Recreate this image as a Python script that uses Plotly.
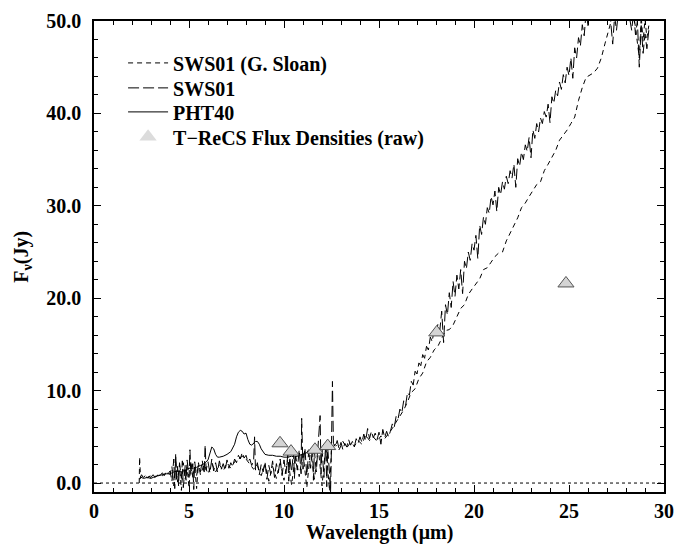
import plotly.graph_objects as go

# ---------------- data ----------------
# SWS01 (long dashes)
sws_wl = [2.4, 2.5, 2.6, 2.7, 2.8, 2.9, 3.0, 3.1, 3.2, 3.3, 3.4, 3.5, 3.6, 3.7, 3.8, 3.9, 4.0,
          4.1, 4.2, 4.25, 4.3, 4.35, 4.4, 4.45, 4.5, 4.6, 4.65, 4.7, 4.8, 4.85, 4.9, 5.0, 5.05, 5.1, 5.2, 5.25, 5.3, 5.4, 5.5,
          5.6, 5.7, 5.8, 5.85, 5.9, 6.0, 6.1, 6.2, 6.3, 6.4, 6.5, 6.6, 6.7, 6.8, 6.9, 7.0, 7.1, 7.2, 7.3, 7.4,
          7.5, 7.6, 7.7, 7.8, 7.9, 8.0, 8.1, 8.2, 8.3,
          8.4, 8.45, 8.5, 8.6, 8.7, 8.8, 8.9, 9.0, 9.1, 9.2, 9.3, 9.4, 9.5, 9.6, 9.7, 9.8, 9.9, 10.0,
          10.1, 10.2, 10.25, 10.3, 10.4, 10.5, 10.55, 10.6, 10.7, 10.8, 10.9, 10.93, 11.0, 11.1, 11.2, 11.3, 11.4, 11.5,
          11.55, 11.6, 11.7, 11.8, 11.9, 11.95, 12.0, 12.1, 12.2, 12.25, 12.3, 12.4, 12.45, 12.5, 12.55, 12.6,
          12.7, 12.8, 12.9, 13.0, 13.1, 13.2, 13.3, 13.4, 13.5, 13.6, 13.7, 13.8, 13.9, 14.0, 14.1, 14.2, 14.3, 14.4,
          14.5, 14.6, 14.7, 14.8, 14.9, 15.0, 15.1, 15.2, 15.3, 15.4, 15.5,
          15.6, 15.7, 15.8, 15.9, 16.0, 16.1, 16.2, 16.3, 16.4, 16.5,
          16.6, 16.7, 16.8, 16.9, 17.0, 17.1, 17.2, 17.3, 17.4, 17.5,
          17.6, 17.7, 17.8, 17.9, 18.0, 18.1, 18.2, 18.3, 18.4, 18.5,
          18.6, 18.7, 18.8, 18.9, 19.0, 19.1, 19.2, 19.3, 19.4, 19.5,
          19.6, 19.7, 19.8, 19.9, 20.0, 20.1, 20.2, 20.3, 20.4, 20.5,
          20.6, 20.7, 20.8, 20.9, 21.0, 21.1, 21.2, 21.3, 21.4, 21.5,
          21.6, 21.7, 21.8, 21.9, 22.0, 22.1, 22.2, 22.3, 22.4, 22.5,
          22.6, 22.7, 22.8, 22.9, 23.0, 23.1, 23.2, 23.3, 23.4, 23.5,
          23.6, 23.7, 23.8, 23.9, 24.0, 24.1, 24.2, 24.3, 24.4, 24.5,
          24.6, 24.7, 24.8, 24.9, 25.0, 25.1, 25.2, 25.3, 25.4, 25.5,
          25.6, 25.7, 25.8, 25.9, 26.0,
          26.1, 26.2, 26.3, 26.4, 26.5, 26.6, 26.7, 26.8, 26.9, 27.0,
          27.1, 27.2, 27.3, 27.4, 27.5, 27.6, 27.7, 27.8, 27.9, 28.0,
          28.1, 28.2, 28.3, 28.4, 28.5, 28.6, 28.7, 28.8, 28.9, 29.0, 29.1, 29.2]
sws_fx = [0.4, 0.9, 0.6, 0.8, 0.5, 0.7, 0.6, 0.9, 0.7, 1.0, 0.8, 0.9, 1.1, 0.8, 1.2, 1.0, 1.3,
          0.2, 2.6, -0.6, 3.2, 0.4, 1.8, -0.3, 2.2, 0.5, 2.4, -0.5, 1.9, 0.3, 2.5, 0.6, 3.6, 0.9, 2.1, -0.7, 2.3, 0.8, 2.0,
          1.2, 2.4, 1.0, 4.1, 1.4, 2.3, 1.1, 2.6, 1.3, 2.2, 1.2, 2.4, 1.5, 2.1, 1.4, 2.5, 1.6, 2.2, 1.8, 2.6,
          2.2, 3.0, 2.6, 3.3, 2.7, 3.0, 2.3, 2.6, 1.9,
          2.4, 5.0, 1.4, 2.2, 0.9, 2.0, 1.2, 2.3, 0.4, 1.9, 1.0, 2.4, 0.6, 2.1, 1.1, 2.6, 0.8, 2.5,
          1.0, 3.1, 0.2, 2.8, 1.2, 3.4, 0.5, 2.9, 1.4, 3.6, 1.0, 7.0, 1.5, 3.8, 0.8, 3.4, 1.6, 4.0,
          0.3, 3.5, 1.2, 4.2, 7.3, 1.0, 3.9, 0.6, 4.4, -0.4, 3.8, 0.9, -1.0, 4.1, 11.0, 4.3,
          3.9, 4.6, 3.7, 4.4, 3.6, 4.3, 3.9, 4.7, 4.1, 4.5, 3.9, 4.8, 4.3, 5.0, 4.4, 5.3, 4.6, 5.9,
          4.8, 5.6, 4.9, 5.4, 4.7, 5.5, 4.2, 5.8, 4.9, 5.6, 5.0,
          5.6, 6.4, 6.0, 7.2, 6.9, 8.0, 7.6, 8.9, 8.4, 9.8,
          9.5, 11.0, 10.6, 12.1, 11.8, 13.0, 12.7, 13.9, 13.5, 14.8,
          14.4, 15.8, 15.3, 16.6, 16.0, 17.2, 16.5, 18.6, 15.2, 19.3,
          18.2, 20.6, 19.0, 21.8, 20.2, 22.5, 21.0, 23.1, 20.5, 24.0,
          23.2, 25.0, 24.1, 25.9, 25.2, 26.8, 24.3, 27.9, 26.9, 28.8,
          28.0, 29.8, 29.2, 31.0, 30.1, 31.6, 29.4, 32.0, 31.2, 32.6,
          31.8, 33.2, 32.4, 33.8, 33.0, 34.5, 32.0, 35.1, 34.3, 35.8,
          35.0, 36.6, 35.9, 37.4, 35.2, 38.2, 37.3, 38.9, 38.0, 39.5,
          38.9, 40.2, 39.6, 41.0, 39.0, 41.8, 41.1, 42.5, 41.9, 43.4,
          42.6, 44.2, 43.3, 45.0, 44.1, 46.0, 43.8, 47.1, 46.0, 48.2,
          47.3, 49.6, 48.4, 51.0, 49.5,
          52.0, 50.5, 53.0, 51.0, 54.0, 52.0, 55.0, 52.5, 54.0, 51.5,
          53.0, 49.8, 47.5, 50.5, 49.0, 51.0, 53.0, 52.0, 54.0, 51.0,
          52.0, 50.2, 49.0, 51.0, 48.5, 50.0, 45.0, 49.5, 46.5, 48.6, 47.0, 49.0]

# SWS01 (G. Sloan) (short dashes)
gs_wl = [2.38, 2.4, 2.45, 2.6, 2.8, 3.0, 3.2, 3.4, 3.6, 3.8, 4.0,
         4.1, 4.2, 4.3, 4.4, 4.5, 4.6, 4.7, 4.8, 4.9, 5.0, 5.1, 5.2, 5.3, 5.4, 5.5,
         5.6, 5.8, 6.0, 6.2, 6.4, 6.6, 6.8, 7.0, 7.2, 7.4, 7.6, 7.8, 8.0, 8.2, 8.4, 8.6, 8.8, 9.0, 9.2, 9.4, 9.6, 9.8, 10.0,
         10.2, 10.4, 10.6, 10.8, 11.0, 11.2, 11.4, 11.6, 11.8, 12.0, 12.2, 12.4, 12.5,
         12.7, 12.9, 13.1, 13.3, 13.5, 13.7, 13.9, 14.1, 14.3, 14.5, 14.7, 14.9, 15.1, 15.3, 15.5,
         15.7, 15.9, 16.1, 16.3, 16.5, 16.7, 16.9, 17.1, 17.3, 17.5, 17.7, 17.9, 18.1, 18.3, 18.5, 18.7, 18.9,
         19.1, 19.3, 19.5, 19.7, 19.9, 20.1, 20.3, 20.5, 20.7, 20.9, 21.1, 21.3, 21.5, 21.7, 21.9,
         22.1, 22.3, 22.5, 22.7, 22.9, 23.1, 23.3, 23.5, 23.7, 23.9, 24.1, 24.3, 24.5, 24.7, 24.9,
         25.1, 25.3, 25.5, 25.7, 25.9, 26.1, 26.3, 26.5, 26.7, 26.9, 27.1, 27.3, 27.5, 27.7, 27.9,
         28.1, 28.3, 28.5, 28.7, 28.8, 28.9, 29.0, 29.1, 29.2]
gs_fx = [0.0, 2.8, 0.5, 0.8, 0.6, 0.8, 0.6, 0.9, 0.8, 1.1, 0.9,
         1.8, -0.3, 2.4, 0.1, 2.0, -0.8, 2.2, 0.4, 1.7, -0.5, 2.4, 0.6, 1.8, -0.6, 2.2,
         0.9, 2.0, 1.0, 2.1, 1.2, 2.0, 1.3, 2.2, 1.6, 2.3, 2.6, 2.9, 2.6, 2.1, 1.5, 1.9, 0.8, 2.0, 0.2, 1.8, 0.5, 2.2, 0.3,
         2.6, -0.2, 3.0, 0.7, 3.3, -0.5, 3.6, 0.4, 3.9, -0.3, 4.0, -0.9, 3.8,
         4.2, 3.6, 4.5, 3.8, 4.4, 4.0, 4.6, 4.2, 5.2, 4.6, 5.0, 4.5, 5.1, 4.8, 5.3,
         5.9, 6.6, 7.2, 7.9, 8.8, 9.8, 10.2, 11.3, 11.9, 13.1, 13.6, 14.4, 14.8, 15.6, 16.5, 16.6, 17.1,
         18.0, 18.9, 19.3, 20.4, 21.0, 21.6, 22.1, 23.1, 23.3, 23.9, 24.5, 24.9, 25.0, 26.2, 27.0,
         27.9, 28.7, 29.8, 30.3, 31.0, 31.6, 32.3, 32.6, 33.8, 34.5, 35.3, 36.0, 37.1, 37.6, 38.2,
         38.9, 39.6, 41.4, 42.8, 43.9, 44.2, 44.4, 44.9, 46.0, 47.6, 49.2, 50.6, 51.5, 52.3, 51.2,
         50.6, 52.0, 49.3, 46.0, 50.5, 47.8, 50.2, 48.2, 49.5]

# PHT40 (solid)
pht_wl = [2.45, 2.5, 2.6, 2.8, 3.0, 3.2, 3.4, 3.6, 3.8, 4.0, 4.2, 4.4, 4.6, 4.8, 5.0, 5.2, 5.4, 5.6, 5.8, 6.0,
          6.1, 6.2, 6.3, 6.4, 6.5, 6.6, 6.8, 7.0, 7.2, 7.4,
          7.5, 7.6, 7.7, 7.8, 7.9, 8.0, 8.1, 8.2, 8.3, 8.4, 8.5, 8.6, 8.7, 8.8, 8.9, 9.0,
          9.2, 9.4, 9.6, 9.8, 10.0, 10.2, 10.4, 10.6, 10.8, 11.0, 11.2, 11.3, 11.4, 11.6]
pht_fx = [0.6, 0.6, 0.5, 0.6, 0.5, 0.7, 0.8, 0.9, 1.0, 1.0, 1.2, 1.3, 1.2, 1.4, 1.6, 1.6, 1.7, 1.9, 2.1, 2.5,
          3.2, 3.9, 3.7, 3.1, 2.8, 2.8, 2.9, 3.1, 3.4, 4.2,
          5.0, 5.5, 5.7, 5.6, 5.3, 5.4, 4.7, 4.2, 4.1, 4.3, 4.5, 4.5, 4.2, 3.7, 3.4, 3.1,
          3.0, 3.0, 2.9, 2.9, 2.8, 2.8, 2.9, 2.8, 3.0, 3.1, 3.3, 3.6, 3.4, 3.2]

# T-ReCS flux densities (raw)
trecs_wl = [9.79, 10.37, 11.63, 12.30, 18.04, 24.84]
trecs_fx = [4.3, 3.4, 3.6, 4.0, 16.3, 21.6]

x_tickvals = [0, 5, 10, 15, 20, 25, 30]
y_tickvals = [0, 10, 20, 30, 40, 50]
y_ticktext = ["0.0", "10.0", "20.0", "30.0", "40.0", "50.0"]
x_title = "Wavelength (\u03bcm)"
y_title = "F<sub>\u03bd</sub>(Jy)"

assert len(sws_wl) == len(sws_fx)
assert len(gs_wl) == len(gs_fx)
assert len(pht_wl) == len(pht_fx)

FONT = "Liberation Serif"
bold20 = dict(family=FONT, size=20, color="black", weight="bold")

fig = go.Figure()
fig.add_trace(go.Scatter(x=gs_wl, y=gs_fx, mode="lines", name="SWS01 (G. Sloan)", legend="legend",
                         line=dict(color="black", width=1, dash="5px,4px")))
fig.add_trace(go.Scatter(x=sws_wl, y=sws_fx, mode="lines", name="SWS01", legend="legend2",
                         line=dict(color="black", width=1, dash="11px,4px")))
fig.add_trace(go.Scatter(x=pht_wl, y=pht_fx, mode="lines", name="PHT40", legend="legend3",
                         line=dict(color="black", width=1)))
fig.add_trace(go.Scatter(x=trecs_wl, y=trecs_fx, mode="markers", showlegend=False,
                         marker=dict(symbol="triangle-up", size=14, color="#d4d4d4",
                                     line=dict(color="#555555", width=1))))
fig.add_trace(go.Scatter(x=[None], y=[None], mode="markers", name="T\u2212ReCS Flux Densities (raw)",
                         legend="legend4",
                         marker=dict(symbol="triangle-up", size=15, color="#dcdcdc",
                                     line=dict(color="#dcdcdc", width=0))))

fig.add_hline(y=0, line=dict(color="black", width=1, dash="dot"))

axis_common = dict(showline=True, linecolor="black", linewidth=1.5, mirror="ticks",
                   ticks="inside", tickcolor="black", tickwidth=1, ticklen=7,
                   showgrid=False, zeroline=False, automargin=False,
                   tickfont=bold20)

fig.update_xaxes(range=[0, 30], tickvals=x_tickvals,
                 minor=dict(dtick=1, ticks="inside", ticklen=4, tickcolor="black"),
                 ticklabelstandoff=0,
                 **axis_common)
fig.update_yaxes(range=[-0.97, 50.0], tickvals=y_tickvals, ticktext=y_ticktext,
                 minor=dict(dtick=2, ticks="inside", ticklen=4, tickcolor="black"),
                 ticklabelstandoff=7,
                 **axis_common)

# axis titles as annotations (paper coordinates)
fig.add_annotation(text=x_title, xref="paper", yref="paper", x=0.5, y=-0.087,
                   xanchor="center", yanchor="middle", showarrow=False, font=bold20)
fig.add_annotation(text=y_title, xref="paper", yref="paper", x=-0.126, y=0.5,
                   xanchor="center", yanchor="middle", showarrow=False, textangle=-90, font=bold20)

def leg(ypos):
    return dict(x=0.051, y=ypos, xanchor="left", yanchor="middle",
                bgcolor="rgba(0,0,0,0)", borderwidth=0, font=bold20,
                itemwidth=40)

fig.update_layout(
    width=676, height=546,
    margin=dict(l=94, r=12, t=21, b=54),
    paper_bgcolor="white", plot_bgcolor="white",
    showlegend=True,
    legend=leg(0.911),
    legend2=leg(0.858),
    legend3=leg(0.807),
    legend4=leg(0.754),
)

fig.write_html("out.html")
